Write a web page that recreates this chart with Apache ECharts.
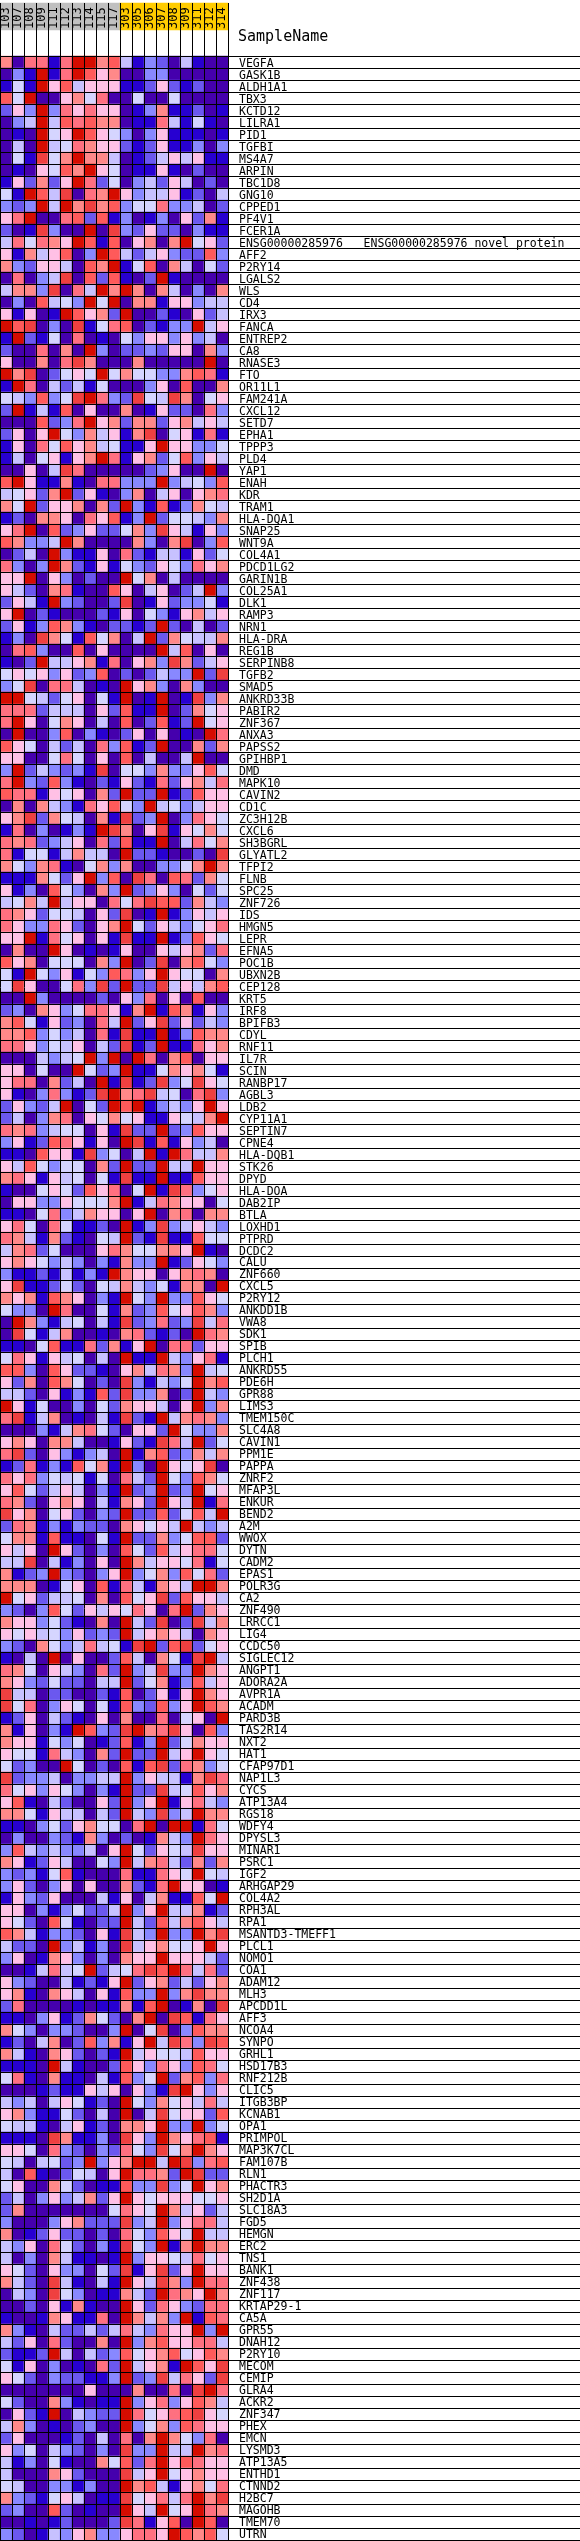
<!DOCTYPE html>
<html>
<head>
<meta charset="utf-8">
<style>html,body{margin:0;padding:0;background:#fff}#c{width:580px;height:2541px}</style>
<script src="https://cdn.jsdelivr.net/npm/echarts@6/dist/echarts.min.js"></script>
</head>
<body>
<div id="c"></div>
<script>
const sampleIds = ["103","107","108","109","111","112","113","114","115","117","303","305","306","307","308","309","311","312","314"];
const sampleGroup = [0,0,0,0,0,0,0,0,0,0,1,1,1,1,1,1,1,1,1];
const groupColors = ["#C0C0C0","#FFCC00"];
const levelColors = ["#4500AD","#2700D1","#6B58EF","#8888FF","#C7C1FF","#D5D5FF","#FFC0E5","#FF8989","#FF7080","#FF5A5A","#EF4040","#D60C00"];
const levelCodes = "abcdefghijkl";
const geneLabels = ["VEGFA","GASK1B","ALDH1A1","TBX3","KCTD12","LILRA1","PID1","TGFBI","MS4A7","ARPIN","TBC1D8","GNG10","CPPED1","PF4V1","FCER1A","ENSG00000285976   ENSG00000285976 novel protein","AFF2","P2RY14","LGALS2","WLS","CD4","IRX3","FANCA","ENTREP2","CA8","RNASE3","FTO","OR11L1","FAM241A","CXCL12","SETD7","EPHA1","TPPP3","PLD4","YAP1","ENAH","KDR","TRAM1","HLA-DQA1","SNAP25","WNT9A","COL4A1","PDCD1LG2","GARIN1B","COL25A1","DLK1","RAMP3","NRN1","HLA-DRA","REG1B","SERPINB8","TGFB2","SMAD5","ANKRD33B","PABIR2","ZNF367","ANXA3","PAPSS2","GPIHBP1","DMD","MAPK10","CAVIN2","CD1C","ZC3H12B","CXCL6","SH3BGRL","GLYATL2","TFPI2","FLNB","SPC25","ZNF726","IDS","HMGN5","LEPR","EFNA5","POC1B","UBXN2B","CEP128","KRT5","IRF8","BPIFB3","CDYL","RNF11","IL7R","SCIN","RANBP17","AGBL3","LDB2","CYP11A1","SEPTIN7","CPNE4","HLA-DQB1","STK26","DPYD","HLA-DOA","DAB2IP","BTLA","LOXHD1","PTPRD","DCDC2","CALU","ZNF660","CXCL5","P2RY12","ANKDD1B","VWA8","SDK1","SPIB","PLCH1","ANKRD55","PDE6H","GPR88","LIMS3","TMEM150C","SLC4A8","CAVIN1","PPM1E","PAPPA","ZNRF2","MFAP3L","ENKUR","BEND2","A2M","WWOX","DYTN","CADM2","EPAS1","POLR3G","CA2","ZNF490","LRRCC1","LIG4","CCDC50","SIGLEC12","ANGPT1","ADORA2A","AVPR1A","ACADM","PARD3B","TAS2R14","NXT2","HAT1","CFAP97D1","NAP1L3","CYCS","ATP13A4","RGS18","WDFY4","DPYSL3","MINAR1","PSRC1","IGF2","ARHGAP29","COL4A2","RPH3AL","RPA1","MSANTD3-TMEFF1","PLCL1","NOMO1","COA1","ADAM12","MLH3","APCDD1L","AFF3","NCOA4","SYNPO","GRHL1","HSD17B3","RNF212B","CLIC5","ITGB3BP","KCNAB1","OPA1","PRIMPOL","MAP3K7CL","FAM107B","RLN1","PHACTR3","SH2D1A","SLC18A3","FGD5","HEMGN","ERC2","TNS1","BANK1","ZNF438","ZNF117","KRTAP29-1","CA5A","GPR55","DNAH12","P2RY10","MECOM","CEMIP","GLRA4","ACKR2","ZNF347","PHEX","EMCN","LYSMD3","ATP13A5","ENTHD1","CTNND2","H2BC7","MAGOHB","TMEM70","UTRN"];
const rowCodes = [
"haiibillhjebdcaebaa","adblbiljghaaddaaaaa","bfblgjegggbbcgcbcaa","jflaaghfiaafaafaaaa","cgdldigiggabdhbbcab","adelejijhhabbiebfba","abalfgljgfdadgbbbab","aealefihggcbcgbbdad","afbkfhlhheabcegegbb","abagfjhlgfabbgbacaa","bgchcglicfadecgeaca","fbljekaihlgdeegbcae",
"dcdlelhkhjdffiddeac","gilaaijcjbdabdagchb","cabkdaalakdcgccadbb","eifihgljbjaghahlfgc","gbhegjadljecegdccjd","hdcggeajhlbfjaheafc","aiadekajcjbaclbaaaa","ehhdkaielhlhaheadah","adajefdlflahhbggdee","gbgabljghclaacbagce","ljkadakbfijacbddleg","blcbfaiabafdggdgdea","caaiahaldaccdcggahd","gaahaikhaaahaaaaala","lhkacfgflfhffddhjib","bliaecebfaaadgajaah","fedjdfklidckfekhafg","clbebjagaahabgccaid","aaajcdilghchhcghege","cgaglfdhegbhkafgbib","bgaifjghefbbglggddf","beafgbghlibghcfjdge","aagaekiaaaaacdgaala","jlgbbhbaiidddldefdj","efgchlcgbadhaegaghi",
"hflcgghahcldbjbdhfe","bcahhgaigjbdlcffedh","gilajcdgccfhdkgebgd","jhddelhaaaahdahkadj","acealdbbgaicbeebgcf","idadlhcbgbfdcgfdigh","gglagdacaalfhaeaaaa","gecahibaajgaegaceld","cgebldcaackabgcddfb","glacbaaacbgafdbgheg","cgbdjhdbaccbclcaeac","bdakhfbjfhaelchfeeh","aijdaajagaaaalejaga","bacleeghbiaghdkhceg","fgfgdgcdjacaceddlck","dfkaiieabalghdahdaa","llfecfgafblablabkdh","iiiceeeagcjbblachfg","ilgafhgaeajacjbclfg","alaadjadbacgagabali","jgfaeceaidjbclaahch","ggaafifagajaeaaelaa","dlcedcdbkaffdhddgjf","ildcjdbacbgcbicghei","jiibgfgahclcclbcjgg",
"ahahedbigjfdlefdegg","ghkchfeahbkcdladigf","biadabdblkhagkbgfhf","ihicdegaicjbblaeifh","ibffbeheealccbaacak","hfdhibafhdhaaddfhlh","bbbhfcgldjakiajichf","gbdajfdahdlcdgdafcf","efheleggaifikjjched","ihgcffeagckablbdgeg","igddigcaghlfcgedfgi","gglbifgagbkbblbdjgf","ahaalgababgaageghci","jghafffahdlackahjfd","fblfdgbfdjidglgffah","fkgaafidkclcckegehj",
"aaldaaaacagdiagajaa","cdahgdfiigbhlbjhbgd","hjfbgcdaielcgkcgced","hhjdfdeaibkbblbdjhh","iigdfegaeckbclbbigh","aaaedefldlaliahjagg","ggafaalfcdlbbfhghfb","giiahcealbkbckdfkgf","gbadidbcklhikefaikd","cgdcelafcljlbdedglg","ceadhiagfhfgbbgfehl","ihideffagbkcclcdjgg","dgbcjigbgalkbjbgdea","bbajggbkdfaelblieeh","gejfdffahclccleelgg","higbgefafbkbblbbjgg",
"baafgfcjgiaflbkidfg","aggddgfffhlbeihggaf","bbafidehggaglahiahh","gifaifbbcalbdkdeged","ihebhcbafelcbkbbjff","ehicfaaagihffhhglba","ghgfdedadbhddlbcgfd","dbbcbebdblhggaghiha","gkbbcfcafehedfbhhal","hghbjhgadblfdlddjgf","fddaliaafbhcdjfgjhd","alhdbefaebkcdicdkei","akfbehaabahicbcalih","bbafjbbichbglaiicgg","figbgefaealbbledgib","jjdajgccbagheihdlef",
"gchajhfacakdbedflhj","eecagbdbjckddhacled","lgbfaadafchggeagldh","ikbehabaebkcblehihd","aaadbehifcaggclfddh","ghgahheaabgcbkielcf","ikcagdbdealbhjcdheh","bcibdbjfhbldalgfgka","igidfefbfaieclfdjhf","gjfcegeadblcdlcdlfg","ihcaghgaebhgclgelbi","kghafgcadclccjcfjel","cihbdbdccahgfgelede","fhhbjbbafblcchdfjjc","gegalgcadajfcjegiif","eekaebdagalheggfibf",
"hbcdldcadgldfhdjfic","hhhabfgajbiebhgellh","lfgceefahajfgkcjgge","dcadjfcgegfigailchg","hggdfcbahaleckackeh","gfgefdgcdcleghgeahg","dcahfdeiefbklcjkcfg","baealagaacjeahfbkle","ihfagedaicldekddlhg","hgdcfccaeelcfhbdjeg","keeaccaacbjacgbglhg","kfiadgfafbjdcjdgljh","bcgaecbagahaaiafgal","hbgadbljdcklhikgajd","hggbfdfabcjbdlcfhgg","gffbiedahclccleglgf",
"fcdaalfacajbjkcihdf","kcddeaddeeldgeebhki","ifgdgfdadblcckefjgh","gjbaecaagcldglbgied","hhfbgeeaecledkdelhh","bbadfcghffailallbif","adaadcbhdacabhedlig","djededdeaglfcgfekgg","hgbcgeaafdlehiechch","dcdbfjbaaaibbigflfe","dgcadgagaahcbilggab","bgdcgaaaebgaehbbjfl","ggadbdfcceldgleehbc","gfcajfbacclecjehjge","jhebddcagbkedlddlhk","eccaldebdakeghffglg",
"dgabhgdadahgglgggec","aabeieflcefikjlieic","gdcaaebcbglcghcecgh","ghbahgeagbjddldhkhh","ciaaaababbhbjlabhak","bbadgbchfcahlakjbig","hfdaddcaadlafkadjhh","bcaehacjdhbglekidkj","hebahgcacblegffejgg","bbbalebaacjgdigdjif","fibahbbaebjdflchjdi","aaabcbbgegagdbklgdg","edeaegfbcalfdhfgeie","ghdbbfcaealaekfggcj","feebaegbcahhglddldf",
"bbbakhbbdakgdlhgijb","ggfaidcadcifdkfhlhg","feaefcdldghllelkdij","eajbacfeagliihclkcc","fgaahfcabbjddkdflgh","ceadgdehcglgfgggffg","chaaaaaaafigflhegce","daaadghccckdeldgiie","habcgccacaifdjgflee","edgaifcadbkfdlbhlhh","eadahebbabldggfeifg","gfcagddafckbgkcglgg","hecakebaeblgekhdlii","aedakfdabbheclihglh",
"aacagbhbaalgcigdcii","baabhgbbialhehdlbji","hdbaecceceiediggldl","ecgaicaahaldhjggiie","cbbcleaecdjfghjfgjh","fbgadabaicleghbljgk","gfcadccbbdlcdkeigck","aaaaaaagaaahaaiakli","fcaahdbabbldgidgjhe","agcblaedcclifgijkgf","ehdabacdaaldfhdjigg","cgaaabcaeaiahlhfdia","gdfaedcadakddleelhi","ebdafbaahfjcilgjigg","eaaahgcaaakeglfghgg","feaaddbdaalhjebghfi","hdcbfgeabbkfgieilhk","cdaajcabaalgelfglih","aababcaaackibgjalja","dcabedghddgiigljhjf"
];
const levelRows = rowCodes.map(r => r.split("").map(ch => levelCodes.indexOf(ch)));

const cells = [];
levelRows.forEach((row, y) => row.forEach((v, x) => cells.push([x, y, v])));
const headerCells = sampleGroup.map((g, x) => [x, 0, g]);

const lineStyle = {color:"#000", width:1, type:"solid"};
const chart = echarts.init(document.getElementById("c"), null, {renderer:"canvas"});
chart.setOption({
  animation:false,
  backgroundColor:"#fff",
  title:{text:"SampleName", left:238, top:30, padding:0, textStyle:{fontFamily:"'DejaVu Sans Mono'", fontSize:15, fontWeight:"normal", color:"#000"}},
  tooltip:{show:false},
  grid:[
    {left:0, top:56, width:228, height:2484},
    {left:228, top:56, width:352, height:2484},
    {left:0, top:3, width:228, height:27},
    {left:0, top:30, width:228, height:26},
    {left:228, top:58, width:352, height:2484}
  ],
  xAxis:[
    {gridIndex:0, type:"category", data:sampleIds, z:5, zlevel:1, axisLine:{show:false}, axisTick:{show:false}, axisLabel:{show:false}, splitLine:{show:true, interval:0, lineStyle}},
    {gridIndex:1, type:"value", min:0, max:1, show:false},
    {gridIndex:2, type:"category", data:sampleIds, position:"bottom", z:5, zlevel:1, axisLine:{show:false}, axisTick:{show:false},
      axisLabel:{show:true, inside:true, rotate:90, margin:1, interval:0, fontFamily:"'DejaVu Sans Mono'", fontSize:12, color:"#000"}, splitLine:{show:true, interval:0, lineStyle}},
    {gridIndex:3, type:"category", data:sampleIds, z:5, axisLine:{show:false}, axisTick:{show:false}, axisLabel:{show:false}, splitLine:{show:true, interval:0, lineStyle}},
    {gridIndex:4, type:"value", min:0, max:1, show:false}
  ],
  yAxis:[
    {gridIndex:0, type:"category", inverse:true, data:geneLabels, z:5, zlevel:1, axisLine:{show:false}, axisTick:{show:false}, axisLabel:{show:false}, splitLine:{show:true, interval:0, lineStyle}},
    {gridIndex:1, type:"category", inverse:true, data:geneLabels, z:5, axisLine:{show:false}, axisTick:{show:false}, axisLabel:{show:false}, splitLine:{show:true, interval:0, lineStyle}},
    {gridIndex:2, type:"category", data:["group"], show:false},
    {gridIndex:3, type:"category", data:["blank"], show:false},
    {gridIndex:4, type:"category", inverse:true, data:geneLabels, position:"left", z:6, axisLine:{show:false}, axisTick:{show:false}, splitLine:{show:false},
      axisLabel:{show:true, inside:true, margin:11, interval:0, hideOverlap:false, fontFamily:"'DejaVu Sans Mono'", fontSize:11.5, color:"#000", align:"left", verticalAlign:"middle"}}
  ],
  visualMap:[
    {type:"piecewise", show:false, seriesIndex:0, dimension:2, pieces:levelColors.map((color,value)=>({value, color}))},
    {type:"piecewise", show:false, seriesIndex:1, dimension:2, pieces:groupColors.map((color,value)=>({value, color}))}
  ],
  series:[
    {type:"heatmap", xAxisIndex:0, yAxisIndex:0, data:cells, silent:true, progressive:0, progressiveThreshold:100000, itemStyle:{borderWidth:0}},
    {type:"heatmap", xAxisIndex:2, yAxisIndex:2, data:headerCells, silent:true, itemStyle:{borderWidth:0}}
  ]
});
</script>
</body>
</html>
